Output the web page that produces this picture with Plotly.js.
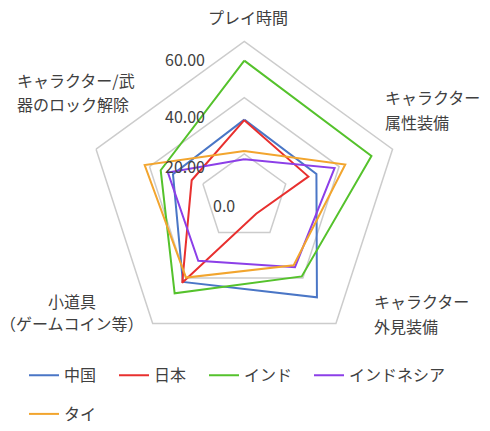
<!DOCTYPE html>
<html>
<head>
<meta charset="utf-8">
<script src="https://cdn.plot.ly/plotly-3.0.1.min.js"></script>
<style>
  html, body { margin: 0; padding: 0; background: #ffffff; }
  #chart { width: 490px; height: 431px; }
</style>
</head>
<body>
<div id="chart"></div>
<script>
// ---- data ----
const categories = [
  "プレイ時間",
  "キャラクター属性装備",
  "キャラクター外見装備",
  "小道具（ゲームコイン等）",
  "キャラクター/武器のロック解除"
];
const seriesNames = ["中国", "日本", "インド", "インドネシア", "タイ"];
const china     = [32.2, 31.5, 48.5, 41.7, 31.2];
const japan     = [32.0, 28.5, 11.7, 42.1, 24.2];
const india     = [53.2, 52.1, 39.3, 46.7, 35.8];
const indonesia = [18.1, 38.3, 35.2, 32.4, 33.1];
const thai      = [21.0, 42.3, 34.4, 39.8, 41.8];
const radialTickLabels = ["0.0", "20.00", "40.00", "60.00"];

// ---- presentation ----
const W = 490, H = 431;
const FONT = "Noto Sans CJK JP, Noto Sans, sans-serif";
const TEXT_COLOR = "#404040";
const colors = ["#4a76c6", "#e8302f", "#55c22c", "#8c3fe8", "#f2a52e"];
const seriesValues = [china, japan, india, indonesia, thai];
const lineBreaks = [0, 6, 6, 3, 8];

// label placement (pixels): per category, list of [x, y] per line, and anchor
const catPlacement = [
  { anchor: "center", pos: [[248, 17]] },
  { anchor: "left",   pos: [[383, 97], [383, 123]] },
  { anchor: "left",   pos: [[372, 302], [372, 328]] },
  { anchor: "center", pos: [[72, 302], [72, 325]] },
  { anchor: "left",   pos: [[15, 80], [15, 104]] }
];
const tickPlacement = [[237, 206], [207, 167], [207, 117], [207, 59]];
// legend item placement (pixels)
const legendPlacement = [[24, 377], [114, 377], [204, 377], [309, 377], [24, 416]];
const legendIds = ["legend", "legend2", "legend3", "legend4", "legend5"];

const traces = seriesNames.map((name, i) => ({
  type: "scatterpolar",
  mode: "lines",
  name: name,
  r: seriesValues[i].concat([seriesValues[i][0]]),
  theta: categories.concat([categories[0]]),
  line: { color: colors[i], width: 2 },
  legend: legendIds[i],
  hoverinfo: "name+r+theta"
}));

const annotations = [];
categories.forEach((c, i) => {
  const b = lineBreaks[i];
  const lines = b ? [c.slice(0, b), c.slice(b)] : [c];
  lines.forEach((t, j) => {
    const p = catPlacement[i].pos[j];
    annotations.push({
      text: t, xref: "paper", yref: "paper",
      x: p[0] / W, y: 1 - p[1] / H,
      xanchor: catPlacement[i].anchor, yanchor: "middle",
      showarrow: false,
      font: { family: FONT, size: 16, color: TEXT_COLOR }
    });
  });
});
radialTickLabels.forEach((t, i) => {
  const p = tickPlacement[i];
  annotations.push({
    text: t, xref: "paper", yref: "paper",
    x: p[0] / W, y: 1 - p[1] / H,
    xanchor: "right", yanchor: "middle",
    showarrow: false,
    font: { family: FONT, size: 16, color: TEXT_COLOR }
  });
});

const cx = 244.3, cy = 198.3, R = 156.6;
const layout = {
  width: W, height: H,
  margin: { l: 0, r: 0, t: 0, b: 0 },
  paper_bgcolor: "#ffffff",
  font: { family: FONT, size: 16, color: TEXT_COLOR },
  polar: {
    domain: {
      x: [(cx - R) / W, (cx + R) / W],
      y: [1 - (cy + R) / H, 1 - (cy - R) / H]
    },
    gridshape: "linear",
    bgcolor: "#ffffff",
    radialaxis: {
      range: [4.5, 60],
      tickvals: [20, 40],
      showticklabels: false,
      ticks: "",
      showline: false,
      gridcolor: "#cccccc",
      gridwidth: 1.5
    },
    angularaxis: {
      type: "category",
      direction: "clockwise",
      rotation: 90,
      showticklabels: false,
      ticks: "",
      showgrid: false,
      showline: true,
      linecolor: "#cccccc",
      linewidth: 1.5
    }
  },
  showlegend: true,
  annotations: annotations
};
legendIds.forEach((id, i) => {
  const p = legendPlacement[i];
  layout[id] = {
    orientation: "h",
    x: p[0] / W, xanchor: "left",
    y: 1 - p[1] / H, yanchor: "middle",
    font: { family: FONT, size: 16, color: TEXT_COLOR },
    bgcolor: "rgba(0,0,0,0)"
  };
});

Plotly.newPlot("chart", traces, layout, { displayModeBar: false, staticPlot: true });
</script>
</body>
</html>
